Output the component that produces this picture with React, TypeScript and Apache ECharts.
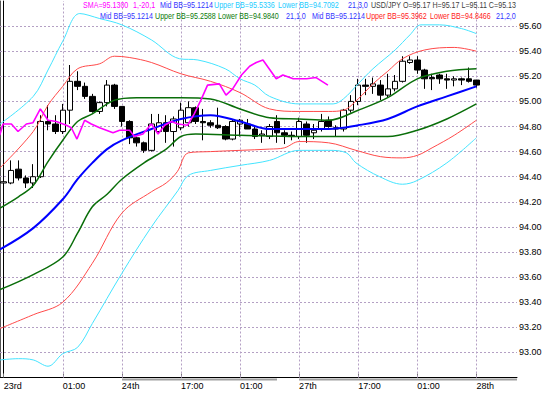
import React, { useEffect, useRef } from "react";
import * as echarts from "echarts";

// ---------- data ----------
const xTickLabels = ["23rd", "01:00", "24th", "17:00", "01:00", "27th", "17:00", "01:00", "28th"];
const labelEvery = 8;
const slotCount = 70;
const yTicks = [93.0, 93.2, 93.4, 93.6, 93.8, 94.0, 94.2, 94.4, 94.6, 94.8, 95.0, 95.2, 95.4, 95.6];
const gridBars = [8, 16, 24, 32, 40, 48, 56, 64];

const opens = [94.35, 94.35, 94.46, 94.39, 94.35, 94.40, 94.84, 94.82, 94.76, 94.93, 95.16, 95.12, 95.04, 94.92, 94.99, 95.13, 94.96, 94.84, 94.71, 94.67, 94.61, 94.76, 94.83, 94.76, 94.79, 94.83, 94.95, 94.84, 94.83, 94.81, 94.80, 94.70, 94.82, 94.82, 94.78, 94.73, 94.72, 94.84, 94.75, 94.73, 94.72, 94.82, 94.75, 94.78, 94.85, 94.79, 94.78, 94.93, 95.00, 95.13, 95.12, 95.13, 95.05, 95.10, 95.16, 95.31, 95.33, 95.25, 95.19, 95.21, 95.18, 95.17, 95.18, 95.18, 95.17];
const closes = [94.36, 94.45, 94.39, 94.35, 94.40, 94.84, 94.82, 94.76, 94.93, 95.16, 95.12, 95.04, 94.92, 94.99, 95.13, 94.96, 94.84, 94.71, 94.67, 94.61, 94.82, 94.83, 94.76, 94.86, 94.93, 94.95, 94.84, 94.83, 94.81, 94.79, 94.70, 94.84, 94.85, 94.78, 94.72, 94.74, 94.80, 94.75, 94.73, 94.72, 94.84, 94.73, 94.77, 94.84, 94.80, 94.78, 94.93, 95.00, 95.13, 95.12, 95.14, 95.05, 95.10, 95.16, 95.32, 95.33, 95.25, 95.18, 95.18, 95.18, 95.17, 95.18, 95.17, 95.16, 95.13];
const lows = [94.22, 94.34, 94.37, 94.31, 94.31, 94.39, 94.77, 94.74, 94.74, 94.82, 95.09, 95.02, 94.91, 94.90, 94.96, 94.94, 94.80, 94.66, 94.64, 94.59, 94.60, 94.74, 94.67, 94.64, 94.77, 94.80, 94.82, 94.69, 94.79, 94.78, 94.69, 94.69, 94.72, 94.78, 94.70, 94.67, 94.70, 94.67, 94.66, 94.69, 94.70, 94.67, 94.70, 94.76, 94.79, 94.72, 94.76, 94.91, 94.97, 95.05, 95.06, 95.01, 95.03, 95.08, 95.15, 95.30, 95.22, 95.10, 95.09, 95.14, 95.10, 95.12, 95.13, 95.15, 95.11];
const highs = [94.40, 94.53, 94.53, 94.41, 94.50, 94.89, 94.97, 94.89, 94.98, 95.29, 95.24, 95.15, 95.06, 95.00, 95.17, 95.14, 94.96, 94.85, 94.72, 94.68, 94.90, 94.90, 94.89, 94.88, 94.99, 95.00, 94.96, 94.94, 94.85, 94.95, 94.81, 94.86, 94.86, 94.86, 94.80, 94.77, 94.82, 94.89, 94.77, 94.76, 94.87, 94.84, 94.82, 94.90, 94.88, 94.81, 94.94, 95.05, 95.18, 95.18, 95.19, 95.17, 95.22, 95.21, 95.36, 95.36, 95.36, 95.26, 95.22, 95.22, 95.22, 95.20, 95.19, 95.27, 95.17];

const midBB = [[-0.5, 93.82], [4, 93.99], [8, 94.22], [10, 94.38], [12, 94.51], [14, 94.62], [16, 94.69], [20, 94.78], [24, 94.86], [28, 94.89], [32, 94.84], [36, 94.78], [40, 94.78], [44, 94.78], [48, 94.81], [52, 94.86], [56, 94.96], [60, 95.04], [64, 95.12]];
const upperBB1 = [[-0.5, 94.15], [2, 94.24], [4, 94.33], [6, 94.52], [8, 94.69], [10, 94.84], [12, 94.90], [15, 95.01], [18, 95.03], [24, 95.03], [28, 95.02], [32, 94.94], [36, 94.87], [40, 94.86], [44, 94.85], [48, 94.93], [52, 95.03], [56, 95.18], [60, 95.24], [64, 95.26]];
const lowerBB1 = [[-0.5, 93.50], [4, 93.62], [8, 93.76], [10, 93.95], [12, 94.16], [14, 94.26], [16, 94.38], [19, 94.51], [22, 94.62], [24, 94.72], [26, 94.74], [32, 94.73], [40, 94.72], [48, 94.72], [52, 94.72], [56, 94.77], [60, 94.86], [64, 94.98]];
const upperBB2 = [[-0.5, 94.47], [4, 94.76], [6, 94.97], [8, 95.12], [10, 95.26], [13, 95.30], [15, 95.36], [17, 95.35], [20, 95.31], [24, 95.22], [28, 95.16], [32, 95.07], [36, 94.94], [40, 94.92], [44, 94.92], [46, 94.93], [48, 95.02], [50, 95.14], [52, 95.24], [54, 95.34], [57, 95.41], [61, 95.43], [64, 95.40]];
const lowerBB2 = [[-0.5, 93.19], [4, 93.30], [8, 93.40], [12, 93.71], [16, 94.11], [20, 94.28], [22, 94.35], [23.5, 94.44], [25, 94.59], [28, 94.60], [32, 94.61], [36, 94.62], [38, 94.63], [40, 94.68], [44, 94.67], [47.7, 94.61], [51, 94.56], [54, 94.55], [56, 94.57], [58, 94.63], [61, 94.73], [64, 94.85]];
const upperBB3 = [[-0.5, 94.82], [4, 95.04], [6, 95.25], [8, 95.48], [10.3, 95.70], [13, 95.66], [16, 95.61], [20, 95.49], [23.8, 95.34], [26.3, 95.33], [30, 95.26], [32, 95.18], [34, 95.13], [36, 95.04], [40, 94.98], [44.6, 94.98], [46, 95.02], [48, 95.14], [50, 95.26], [53, 95.41], [55, 95.53], [56.5, 95.61], [59, 95.61], [62, 95.58], [64, 95.54]];
const lowerBB3 = [[-0.5, 92.94], [2, 92.95], [4, 92.94], [6, 92.89], [8, 92.99], [10, 93.04], [12, 93.23], [16, 93.63], [20, 94.00], [23.6, 94.29], [25, 94.41], [28, 94.45], [32, 94.49], [36, 94.53], [40, 94.61], [44, 94.61], [46.4, 94.59], [47.7, 94.51], [50.9, 94.40], [54, 94.34], [56, 94.37], [60, 94.51], [64, 94.71]];
const smaLine = [[-0.54, 94.73], [-0.09, 94.82], [1.04, 94.82], [1.94, 94.76], [3.07, 94.82], [3.97, 94.83], [4.96, 94.94], [5.55, 94.89], [6.0, 94.85], [7.13, 94.84], [8.48, 94.81], [9.16, 94.79], [9.92, 94.70], [10.96, 94.85], [11.86, 94.82], [12.99, 94.79], [14.8, 94.75], [15.7, 94.77], [17.05, 94.77], [17.7, 94.72], [18.85, 94.74], [20.0, 94.82], [20.9, 94.74], [21.8, 94.81], [22.7, 94.84], [23.6, 94.82], [24.9, 94.81], [25.8, 94.90], [26.7, 95.01], [27.6, 95.13], [29.2, 95.14], [30.1, 95.05], [31.0, 95.10], [32.2, 95.21], [33.3, 95.28], [34.2, 95.31], [35.1, 95.33], [36.9, 95.18], [37.8, 95.21], [39.2, 95.18], [41.0, 95.18], [42.3, 95.19], [43.9, 95.13]];

const lastClose = 95.13;

type Seg = { text: string; x: number; color: string; align?: string };
const legendRow1: Seg[] = [
  { text: "SMA=95.1300", x: 83, color: "#ff00ff" },
  { text: "1,-20,1", x: 133, color: "#ff00ff" },
  { text: "Mid BB=95.1214", x: 160, color: "#3333ff" },
  { text: "Upper BB=95.5336", x: 214, color: "#22ccff" },
  { text: "Lower BB=94.7092", x: 278, color: "#22ccff" },
  { text: "21,3,0", x: 348, color: "#3333ff" },
  { text: "USD/JPY O=95.17 H=95.17 L=95.11 C=95.13", x: 516, color: "#404040", align: "right" },
];
const legendRow2: Seg[] = [
  { text: "Mid BB=95.1214", x: 100, color: "#3333ff" },
  { text: "Upper BB=95.2588", x: 155, color: "#0a7a0a" },
  { text: "Lower BB=94.9840", x: 218, color: "#0a7a0a" },
  { text: "21,1,0", x: 286, color: "#3333ff" },
  { text: "Mid BB=95.1214", x: 312, color: "#3333ff" },
  { text: "Upper BB=95.3962", x: 366, color: "#ff2020" },
  { text: "Lower BB=94.8466", x: 430, color: "#ff2020" },
  { text: "21,2,0", x: 496, color: "#3333ff" },
];

const FONT = '"Liberation Sans", Arial, sans-serif';

export default function App() {
  const ref = useRef<HTMLDivElement>(null);
  useEffect(() => {
    if (!ref.current) return;
    const chart = echarts.init(ref.current, null, { renderer: "svg" });
    const cats = Array.from({ length: slotCount }, (_, i) => String(i));
    const candles = opens.map((o, i) => [o, closes[i], lows[i], highs[i]]);
    const lineSeries = (name: string, data: number[][], color: string, width: number, smooth: boolean | number) => ({
      name,
      type: "line",
      xAxisIndex: 1,
      yAxisIndex: 0,
      data,
      smooth,
      showSymbol: false,
      symbol: "none",
      silent: true,
      lineStyle: { color, width },
      z: 3,
    });
    const makeText = (s: Seg, y: number) => ({
      type: "text",
      x: s.x,
      y,
      scaleX: 0.84,
      style: { text: s.text, fill: s.color, font: `8.5px ${FONT}`, align: s.align || "left", verticalAlign: "middle" },
      z: 10,
    });
    const legendEls: any[] = [
      ...legendRow1.map((s) => makeText(s, 5)),
      ...legendRow2.map((s) => makeText(s, 16)),
    ];
    const option: any = {
      animation: false,
      backgroundColor: "#ffffff",
      grid: { left: 0, top: 1, width: 517, height: 376.5, containLabel: false },
      xAxis: [
        {
          type: "category",
          data: cats,
          boundaryGap: true,
          axisLine: { show: true, lineStyle: { color: "#000", width: 1 } },
          axisTick: {
            show: true,
            inside: true,
            length: 4,
            alignWithLabel: true,
            interval: (i: number) => i % labelEvery === 0 && i / labelEvery < xTickLabels.length,
            lineStyle: { color: "#777" },
          },
          axisLabel: {
            interval: (i: number) => i % labelEvery === 0 && i / labelEvery < xTickLabels.length,
            formatter: (_v: string, i: number) => xTickLabels[i / labelEvery] ?? "",
            align: "left",
            margin: 4,
            fontSize: 9,
            color: "#000",
            fontFamily: FONT,
          },
          splitLine: { show: false },
        },
        { type: "value", min: -0.5, max: slotCount - 0.5, show: false },
      ],
      yAxis: [
        {
          type: "value",
          position: "right",
          min: 92.8,
          max: 95.8,
          interval: 0.2,
          axisLine: { show: true, lineStyle: { color: "#000", width: 1 } },
          axisTick: { show: false },
          splitLine: { show: false },
          axisLabel: {
            margin: 2,
            fontSize: 9,
            color: "#000",
            fontFamily: FONT,
            formatter: (v: number) => (v < 92.9 || v > 95.7 ? "" : v.toFixed(2)),
          },
        },
        {
          type: "value",
          position: "left",
          min: 92.8,
          max: 95.8,
          axisLine: { show: true, lineStyle: { color: "#555", width: 1 } },
          axisTick: { show: false },
          axisLabel: { show: false },
          splitLine: { show: false },
        },
      ],
      series: [
        {
          name: "grid",
          type: "line",
          xAxisIndex: 1,
          yAxisIndex: 0,
          data: [],
          silent: true,
          markLine: {
            silent: true,
            symbol: ["none", "none"],
            z: 1,
            label: { show: false },
            lineStyle: { color: "#b4a0c4", type: [2, 2], width: 1 },
            data: [...yTicks.map((v) => ({ yAxis: v })), ...gridBars.map((b) => ({ xAxis: b }))],
          },
        },
        {
          name: "USDJPY",
          type: "candlestick",
          xAxisIndex: 0,
          yAxisIndex: 0,
          data: candles,
          barWidth: 6,
          silent: true,
          z: 2,
          itemStyle: {
            color: "#ffffff",
            color0: "#000000",
            borderColor: "#000000",
            borderColor0: "#000000",
            borderWidth: 1,
          },
          markLine: {
            silent: true,
            symbol: ["none", "none"],
            z: 6,
            lineStyle: { opacity: 0 },
            label: {
              show: true,
              position: "end",
              distance: 1,
              formatter: lastClose.toFixed(2),
              backgroundColor: "#000",
              color: "#fff",
              fontSize: 9,
              fontFamily: FONT,
              padding: [1, 2, 0, 2],
            },
            data: [{ yAxis: lastClose }],
          },
        },
        lineSeries("upper3", upperBB3, "#44e4ff", 1, 0.35),
        lineSeries("lower3", lowerBB3, "#44e4ff", 1, 0.35),
        lineSeries("upper2", upperBB2, "#ff4a4a", 1, 0.35),
        lineSeries("lower2", lowerBB2, "#ff4a4a", 1, 0.35),
        lineSeries("upper1", upperBB1, "#0a6e0a", 1.5, 0.35),
        lineSeries("lower1", lowerBB1, "#0a6e0a", 1.5, 0.35),
        lineSeries("mid", midBB, "#0000ff", 2, 0.35),
        lineSeries("sma", smaLine, "#ff00ff", 1.6, false),
      ],
      graphic: [
        ...legendEls,
        { type: "rect", shape: { x: 122, y: 378.5, width: 155, height: 2 }, style: { fill: "#a0a0a0" }, z: 10 },
        { type: "rect", shape: { x: 299, y: 378.5, width: 218, height: 2 }, style: { fill: "#a0a0a0" }, z: 10 },
      ],
    };
    chart.setOption(option);
    return () => chart.dispose();
  }, []);
  return (
    <div
      ref={ref}
      style={{ position: "absolute", left: 0, top: 0, width: 549, height: 393, background: "#fff" }}
    />
  );
}
